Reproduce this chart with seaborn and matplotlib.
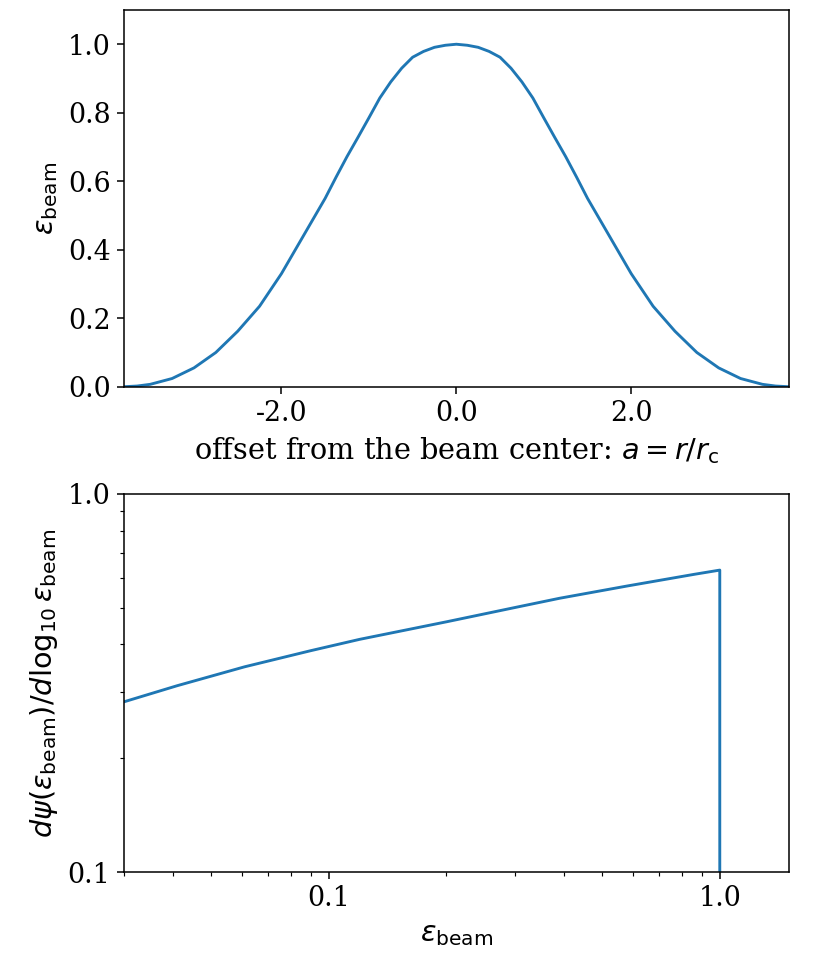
import numpy as np
import matplotlib
matplotlib.use("Agg")
import matplotlib.pyplot as plt
import seaborn as sns
from matplotlib.ticker import NullFormatter

# beam profile (positive half, mirrored below)
offset_half = [0.0, 0.125, 0.25, 0.375, 0.5, 0.625, 0.75, 0.875, 1.0, 1.125, 1.25,
               1.375, 1.5, 1.625, 1.75, 1.875, 2.0, 2.25, 2.5, 2.75, 3.0, 3.25,
               3.5, 3.65, 3.8]
beam_half = [1.0, 0.997, 0.991, 0.979, 0.962, 0.930, 0.890, 0.843, 0.785, 0.728, 0.672,
             0.612, 0.550, 0.495, 0.440, 0.385, 0.330, 0.235, 0.162, 0.100, 0.055, 0.024,
             0.007, 0.002, 0.0]

# dpsi / dlog10(eps) vs eps, bottom panel (drops to zero at eps = 1)
eps_beam = [0.03, 0.041, 0.061, 0.09, 0.12, 0.2, 0.3, 0.39, 0.58, 0.86, 1.0, 1.0]
dpsi_dlog = [0.282, 0.311, 0.349, 0.385, 0.4125, 0.459, 0.501, 0.530, 0.571, 0.613, 0.629, 0.01]

offset = [-v for v in offset_half[::-1]] + offset_half[1:]
beam = beam_half[::-1] + beam_half[1:]

sns.set_style("ticks", {"axes.edgecolor": "black", "xtick.color": "black",
                        "ytick.color": "black", "text.color": "black",
                        "axes.labelcolor": "black"})
plt.rcParams["font.family"] = ["DejaVu Serif"]
plt.rcParams["mathtext.fontset"] = "dejavusans"
plt.rcParams["font.size"] = 14
plt.rcParams["axes.labelsize"] = 15
plt.rcParams["xtick.labelsize"] = 14
plt.rcParams["ytick.labelsize"] = 14

fig = plt.figure(figsize=(830 / 138, 969 / 138), dpi=138)
ax1 = fig.add_axes([0.1494, 0.6009, 0.8008, 0.3888])
ax2 = fig.add_axes([0.1494, 0.1001, 0.8008, 0.3901])

# top: beam efficiency vs offset
sns.lineplot(x=offset, y=beam, ax=ax1, color="#1f77b4", linewidth=1.5,
             estimator=None, sort=False)
ax1.set_xlim(-3.8, 3.8)
ax1.set_ylim(0, 1.1)
ax1.set_xticks([-2.0, 0.0, 2.0])
ax1.set_xticklabels(["-2.0", "0.0", "2.0"])
ax1.set_yticks([0.0, 0.2, 0.4, 0.6, 0.8, 1.0])
ax1.set_yticklabels(["0.0", "0.2", "0.4", "0.6", "0.8", "1.0"])
ax1.set_xlabel(r"offset from the beam center: $a = r/r_{\rm c}$")
ax1.set_ylabel(r"$\epsilon_{\rm beam}$")

# bottom: distribution in log space
sns.lineplot(x=eps_beam, y=dpsi_dlog, ax=ax2, color="#1f77b4", linewidth=1.5,
             estimator=None, sort=False)
ax2.set_xscale("log")
ax2.set_yscale("log")
ax2.set_xlim(0.03, 1.5)
ax2.set_ylim(0.1, 1.0)
ax2.set_xticks([0.1, 1.0])
ax2.set_xticklabels(["0.1", "1.0"])
ax2.set_yticks([0.1, 1.0])
ax2.set_yticklabels(["0.1", "1.0"])
ax2.xaxis.set_minor_formatter(NullFormatter())
ax2.yaxis.set_minor_formatter(NullFormatter())
ax2.set_xlabel(r"$\epsilon_{\rm beam}$")
ax2.set_ylabel(r"$d\psi(\epsilon_{\rm beam})/d\log_{10}\epsilon_{\rm beam}$")

for ax in (ax1, ax2):
    for s in ax.spines.values():
        s.set_visible(True)
        s.set_linewidth(0.8)
    ax.tick_params(which="major", length=3.5, width=0.8, direction="out")
    ax.tick_params(which="minor", length=2, width=0.6, direction="out")

fig.savefig("out.png", dpi=138)
